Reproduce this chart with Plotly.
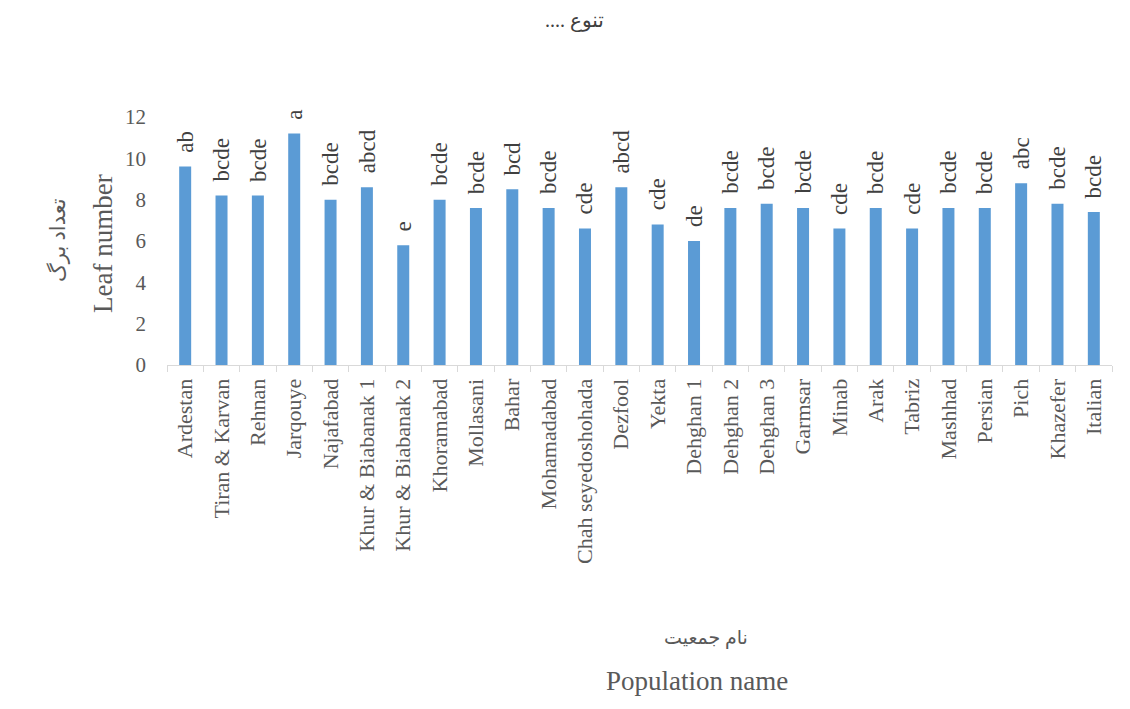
import plotly.graph_objects as go

# Leaf number per population, with mean-separation letters
populations = [
    "Ardestan", "Tiran & Karvan", "Rehnan", "Jarqouye", "Najafabad",
    "Khur & Biabanak 1", "Khur & Biabanak 2", "Khoramabad", "Mollasani",
    "Bahar", "Mohamadabad", "Chah seyedoshohada", "Dezfool", "Yekta",
    "Dehghan 1", "Dehghan 2", "Dehghan 3", "Garmsar", "Minab", "Arak",
    "Tabriz", "Mashhad", "Persian", "Pich", "Khazefer", "Italian",
]
leaf_number = [
    9.6, 8.2, 8.2, 11.2, 8.0,
    8.6, 5.8, 8.0, 7.6,
    8.5, 7.6, 6.6, 8.6, 6.8,
    6.0, 7.6, 7.8, 7.6, 6.6, 7.6,
    6.6, 7.6, 7.6, 8.8, 7.8, 7.4,
]
letters = [
    "ab", "bcde", "bcde", "a", "bcde",
    "abcd", "e", "bcde", "bcde",
    "bcd", "bcde", "cde", "abcd", "cde",
    "de", "bcde", "bcde", "bcde", "cde", "bcde",
    "cde", "bcde", "bcde", "abc", "bcde", "bcde",
]
y_ticks = [0, 2, 4, 6, 8, 10, 12]

SERIF = "Liberation Serif, Times New Roman, DejaVu Sans, serif"
GREY = "#595959"
RLM = "\u200f"

fig = go.Figure()
fig.add_trace(go.Bar(
    x=populations,
    y=leaf_number,
    marker=dict(color="#5B9BD5", line=dict(width=0)),
    hoverinfo="x+y",
))

# significance letters above each bar
for name, val, lab in zip(populations, leaf_number, letters):
    fig.add_annotation(
        x=name, y=val, text=lab, textangle=-90,
        xref="x", yref="y", showarrow=False,
        xanchor="center", yanchor="bottom", yshift=12,
        font=dict(family=SERIF, size=23, color="#404040"),
    )

# title and axis captions, placed by pixel centre
captions = [
    ("تنوع ...." + RLM, 574, 20, 0, 20, "#404040"),
    ("Leaf number", 103, 244, -90, 27, GREY),
    ("تعداد برگ" + RLM, 58, 240, -90, 21, GREY),
    ("نام جمعیت" + RLM, 706, 638, 0, 19, GREY),
    ("Population name", 697, 681, 0, 27, GREY),
]

W, H = 1130, 709
L, R, T, B = 167, 18, 117, 344

for text, px, py, ang, size, col in captions:
    fig.add_annotation(
        x=(px - L) / (W - L - R), y=(H - B - py) / (H - T - B),
        xref="paper", yref="paper", text=text, textangle=ang,
        showarrow=False, xanchor="center", yanchor="middle",
        font=dict(family=SERIF, size=size, color=col),
    )

fig.update_layout(
    width=W, height=H,
    margin=dict(l=L, r=R, t=T, b=B, autoexpand=False),
    paper_bgcolor="white", plot_bgcolor="white",
    bargap=0.67,
    showlegend=False,
    font=dict(family=SERIF, color=GREY),
)
fig.update_xaxes(
    type="category",
    showline=True, linecolor="#d9d9d9", linewidth=1,
    ticks="outside", tickson="boundaries", ticklen=6, tickcolor="#d9d9d9",
    tickangle=-90, tickfont=dict(family=SERIF, size=22, color=GREY),
    ticklabelstandoff=4,
    showgrid=False, zeroline=False,
)
fig.update_yaxes(
    range=[0, 12], tickvals=y_ticks,
    showline=False, showgrid=False, zeroline=False, ticks="",
    ticklabelstandoff=20,
    tickfont=dict(family=SERIF, size=21, color=GREY),
)

fig.write_html("out.html")
